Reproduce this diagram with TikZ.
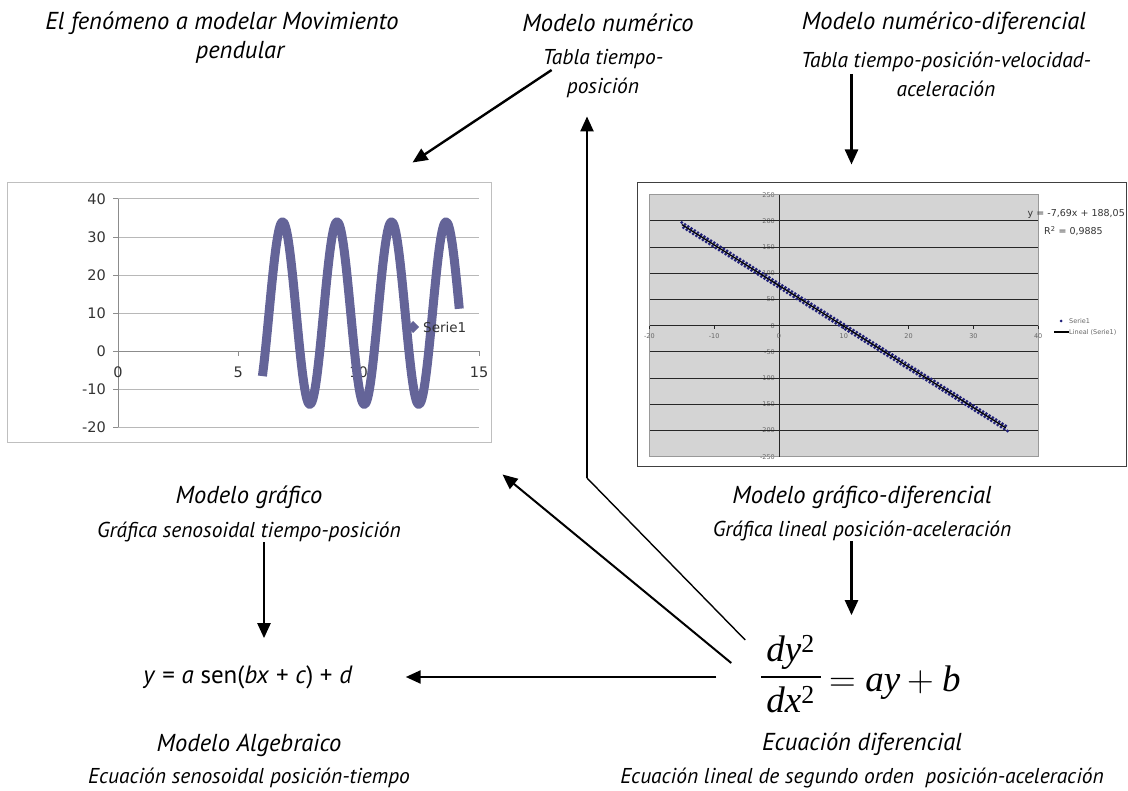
\documentclass[tikz,border=0pt]{standalone}
\usepackage{fontspec}
\setmainfont{PT Sans}
\newfontfamily\tiempos{Liberation Serif}
\newfontfamily\signos{Latin Modern Roman}
\newfontfamily\grafletra{DejaVu Sans}
\usetikzlibrary{arrows.meta}
\definecolor{seriecolor}{RGB}{100,100,152}
\definecolor{fondogris}{RGB}{212,212,212}
\definecolor{puntoazul}{RGB}{32,32,122}

\begin{document}
\begin{tikzpicture}[x=1pt,y=-1pt]
  % Define text, box and arrow styles
  \tikzstyle{titulo} = [inner sep=0pt, align=center, font=\fontsize{24.5}{29}\selectfont\itshape]
  \tikzstyle{subtitulo} = [inner sep=0pt, align=center, font=\fontsize{21.5}{29}\selectfont\itshape]
  \tikzstyle{cajagraf} = [inner sep=0pt, line width=1pt]
  \tikzstyle{flecha} = [line width=2.4pt, -{Triangle[length=15pt,width=13pt]}]
  \tikzstyle{rotulo} = [inner sep=0pt, font=\grafletra\fontsize{14.5}{14}\selectfont, text=black!80]
  \tikzstyle{rotulochico} = [inner sep=0pt, font=\grafletra\fontsize{6.5}{7}\selectfont, text=black!60]

  \useasboundingbox (0,0) rectangle (1128,791);

  % texts of the models
  \node[titulo] (fenomeno) at (222,38) {El fenómeno a modelar Movimiento\\\hspace*{36pt}pendular};
  \node[titulo] (numtit) at (608,23) {Modelo numérico};
  \node[subtitulo] (numsub) at (603,74) {Tabla tiempo-\\posición};
  \node[titulo] (difnumtit) at (944,23) {Modelo numérico-diferencial};
  \node[subtitulo] (difnumsub) at (946,74) {Tabla tiempo-posición-velocidad-\\aceleración};
  \node[titulo] (graftit) at (249,497) {Modelo gráfico};
  \node[subtitulo] (grafsub) at (249,532) {Gráfica senosoidal tiempo-posición};
  \node[titulo] (difgraftit) at (862,497) {Modelo gráfico-diferencial};
  \node[subtitulo] (difgrafsub) at (862,531) {Gráfica lineal posición-aceleración};
  \node[titulo] (algtit) at (249,745) {Modelo Algebraico};
  \node[subtitulo] (algsub) at (249,778) {Ecuación senosoidal posición-tiempo};
  \node[titulo] (ectit) at (862,744) {Ecuación diferencial};
  \node[subtitulo] (ecsub) at (862,778) {Ecuación lineal de segundo orden\ \ posición-aceleración};

  % the two equations
  \node[inner sep=0pt, font=\fontsize{25}{30}\selectfont] (alg) at (248,677)
    {\textit{y} = \textit{a} sen(\textit{bx} + \textit{c}) + \textit{d}};
  \node[inner sep=0pt, font=\tiempos\fontsize{37}{50}\selectfont] (ec) at (861,677)
    {\raisebox{8pt}{\setlength\arrayrulewidth{1.3pt}%
       \begin{tabular}{@{\hspace{5pt}}c@{\hspace{6pt}}}\textit{dy}\textsuperscript{2}\\\hline\textit{dx}\textsuperscript{2}\end{tabular}}%
     \hspace{9pt}{\signos =}\hspace{9pt}\textit{ay}\hspace{7.5pt}{\signos +}\hspace{7.5pt}\textit{b}};

  % chart boxes
  \node[cajagraf, draw=black!25, minimum width=484pt, minimum height=260pt] (graf) at (249,313) {};
  \node[cajagraf, draw=black!75, minimum width=489pt, minimum height=284pt] (difgraf) at (881.5,325) {};

  % sine chart
  \begin{scope}[shift={(118,351.2)}, x=24.07pt, y=3.805pt]
    \foreach \v in {-20,-10,...,40}{
      \draw[black!28, line width=1pt] (0,\v) -- (15,\v);
      \draw[black!45, line width=1pt] (0,\v) -- ++(-5pt,0);
      \node[rotulo, anchor=east] at ([xshift=-12pt]0,\v) {\v};
    }
    \draw[black!45, line width=1pt] (0,-20) -- (0,40);
    \draw[black!45, line width=1pt] (0,0) -- (15,0);
    \foreach \u in {5,10,15} \draw[black!45, line width=1pt] (\u,0) -- ++(0,-5pt);
    \foreach \u in {0,5,10,15} \node[rotulo] at (\u,-5.5) {\u};
    \draw[seriecolor, line width=9pt, line join=round]
      plot[domain=6:14.18, samples=160, smooth] (\x,{24*sin(deg(2.776*(\x-6.274)))+10});
  \end{scope}
  \fill[seriecolor] (407,327) -- (413,321) -- (419,327) -- (413,333) -- cycle;
  \node[rotulo, font=\grafletra\fontsize{13.5}{14}\selectfont, anchor=west] at (423,327) {Serie1};

  % linear chart
  \begin{scope}[shift={(779,325.7)}, x=6.48pt, y=0.524pt]
    \fill[fondogris] (-20,-250) rectangle (40,250);
    \foreach \v in {-250,-200,...,250}
      \node[rotulochico, anchor=east] at ([xshift=-4pt]0,\v) {\v};
    \foreach \v in {-200,-150,...,200}
      \draw[black!85, line width=0.9pt] (-20,\v) -- (40,\v);
    \draw[black!40, line width=0.9pt] (-20,-250) rectangle (40,250);
    \draw[black!85, line width=0.9pt] (0,-250) -- (0,250);
    \foreach \u in {-20,-10,...,40}{
      \draw[black!85, line width=0.9pt] (\u,0) -- ++(0,-3pt);
      \node[rotulochico] at (\u,-19) {\u};
    }
    \foreach \i in {0,...,100}{
      \fill[puntoazul] ({-15+0.5*\i},{193-3.88*\i+4}) circle (1.6pt);
      \fill[puntoazul] ({-14.75+0.5*\i},{191-3.88*\i-4}) circle (1.6pt);
    }
    \draw[black, line width=1.2pt] (-15,193) -- (35,-195);
  \end{scope}
  \node[rotulochico, font=\grafletra\fontsize{9.5}{10}\selectfont, text=black!80, anchor=east] at (1125,214) {y = -7,69x + 188,05};
  \node[rotulochico, font=\grafletra\fontsize{9.5}{10}\selectfont, text=black!80, anchor=west] at (1044,231) {R\textsuperscript{2} = 0,9885};
  \fill[puntoazul] (1061,321) circle (1.5pt);
  \node[rotulochico, anchor=west] at (1069,321) {Serie1};
  \draw[black, line width=1.1pt] (1054,332) -- (1069,332);
  \node[rotulochico, anchor=west] at (1069,332) {Lineal (Serie1)};

  % connectors
  \coordinate (quiebre) at (587,478);
  \coordinate (flechaB) at ([xshift=215pt,yshift=18pt]difgraf.north west);
  \coordinate (flechaD) at ([xshift=16pt,yshift=27pt]alg.north);
  \draw[flecha] ([xshift=9pt,yshift=4pt]numsub.west) -- ([xshift=-79pt,yshift=20pt]graf.north east);
  \draw[flecha] (flechaB |- difnumsub.center) -- (flechaB);
  \draw[flecha, shorten >=11pt] (difgrafsub.south -| flechaB) -- (flechaB |- ec.north);
  \draw[flecha] (flechaD |- grafsub.south) -- (flechaD);
  \draw[flecha, shorten <=45pt, shorten >=53pt] (ec.west |- alg.east) -- (alg.east);
  \draw[flecha, line width=2pt] ([xshift=-30pt,yshift=14pt]ec.west) -- ([xshift=11pt,yshift=-31pt]graf.south east);
  \draw[line width=1.4pt] ([xshift=-16pt,yshift=37pt]ec.west) -- (quiebre);
  \draw[flecha, shorten >=18pt] (quiebre) -- (quiebre |- numsub.south);
\end{tikzpicture}
\end{document}
